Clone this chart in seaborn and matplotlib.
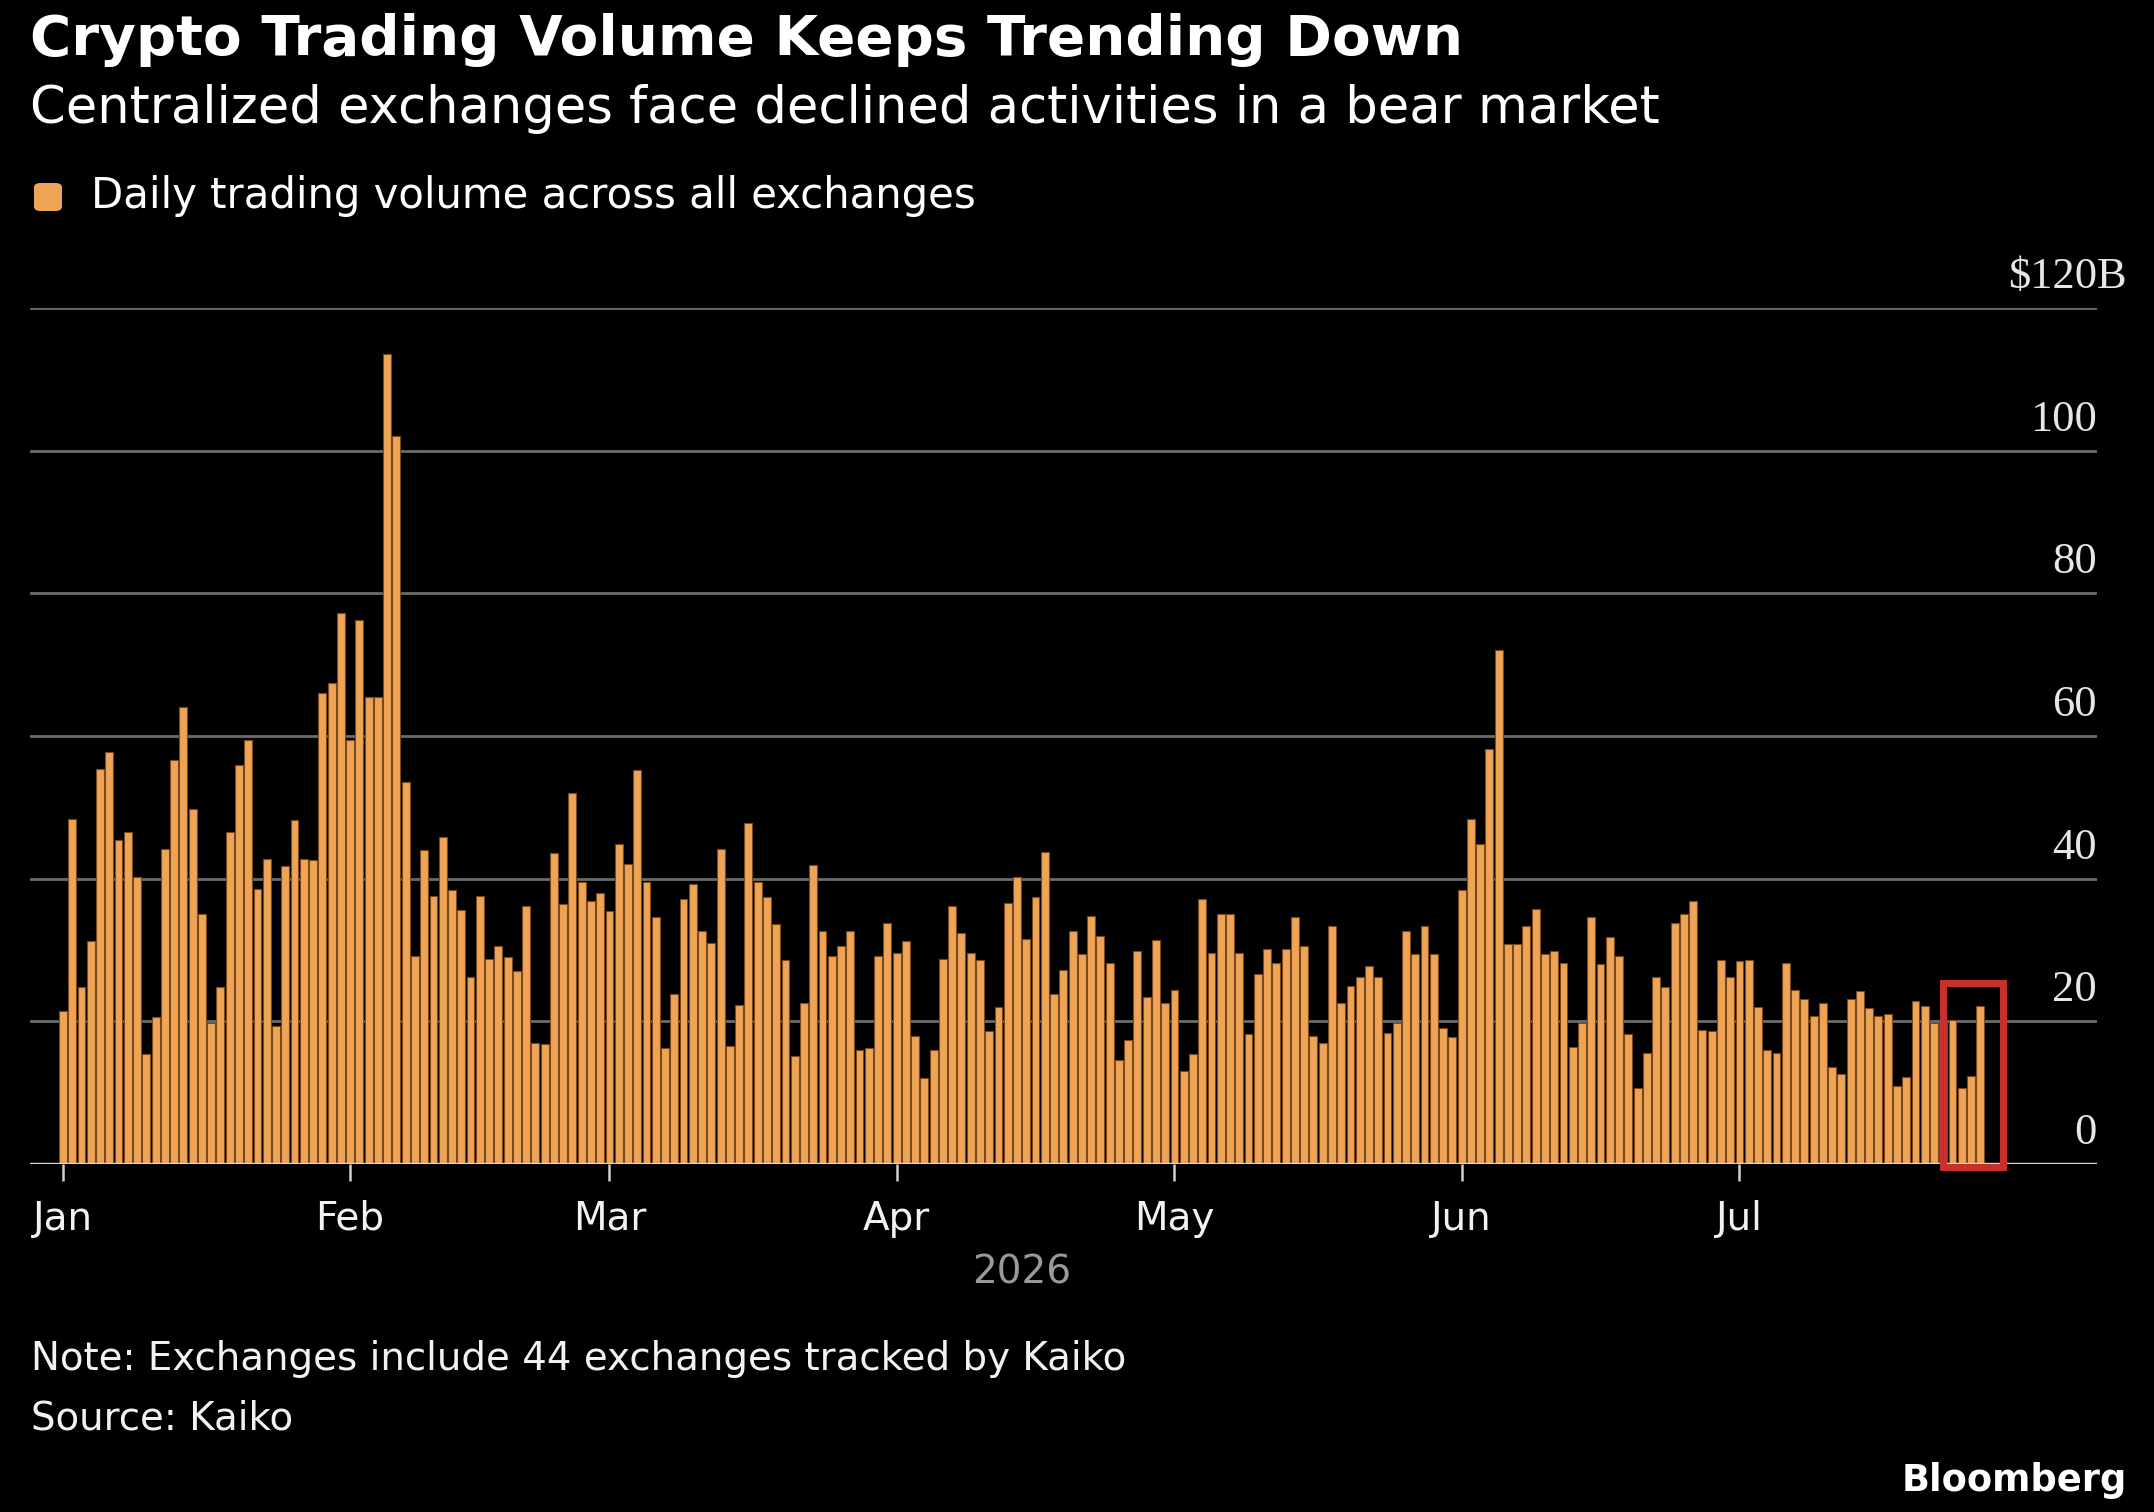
import numpy as np
import pandas as pd
import matplotlib.pyplot as plt
import seaborn as sns
from matplotlib.patches import Rectangle, FancyBboxPatch

# -------------------------
# Data: daily trading volume across all exchanges ($B), Jan 1 - Jul 27 2026
# -------------------------
jan = [21.4, 48.4, 24.8, 31.2, 55.4, 57.8, 45.4, 46.5, 40.2, 15.4,
       20.6, 44.2, 56.7, 64.1, 49.8, 35.0, 19.8, 24.8, 46.5, 56.0,
       59.4, 38.6, 42.8, 19.4, 41.8, 48.2, 42.8, 42.6, 66.0, 67.4,
       77.2]
feb = [59.4, 76.2, 65.4, 65.5, 113.6, 102.0, 53.6, 29.2, 44.0, 37.6,
       45.8, 38.4, 35.6, 26.2, 37.6, 28.8, 30.6, 29.0, 27.0, 36.2,
       17.0, 16.8, 43.6, 36.4, 52.0, 39.6, 36.8, 38.0]
mar = [35.4, 44.8, 42.0, 55.2, 39.6, 34.6, 16.2, 23.8, 37.2, 39.2,
       32.6, 31.0, 44.2, 16.6, 22.3, 47.8, 39.6, 37.5, 33.6, 28.6,
       15.2, 22.6, 41.9, 32.6, 29.2, 30.6, 32.6, 16.0, 16.2, 29.2,
       33.8]
apr = [29.6, 31.2, 18.0, 12.0, 16.0, 28.8, 36.2, 32.4, 29.6, 28.6,
       18.6, 22.0, 36.6, 40.2, 31.6, 37.4, 43.8, 23.9, 27.2, 32.6,
       29.4, 34.8, 32.0, 28.2, 14.6, 17.4, 29.8, 23.4, 31.4, 22.6]
may = [24.4, 13.0, 15.4, 37.2, 29.6, 35.1, 35.1, 29.6, 18.2, 26.6,
       30.2, 28.2, 30.2, 34.6, 30.6, 18.0, 16.9, 33.4, 22.6, 25.0,
       26.2, 27.8, 26.2, 18.4, 19.8, 32.6, 29.4, 33.4, 29.4, 19.0,
       17.8]
jun = [38.4, 48.4, 44.9, 58.2, 72.0, 30.8, 30.8, 33.4, 35.8, 29.4,
       29.8, 28.2, 16.4, 19.8, 34.6, 28.0, 31.8, 29.2, 18.2, 10.6,
       15.6, 26.2, 24.8, 33.8, 35.0, 36.8, 18.8, 18.6, 28.6, 26.2]
jul = [28.4, 28.6, 22.0, 16.0, 15.6, 28.2, 24.4, 23.2, 20.8, 22.6,
       13.6, 12.6, 23.2, 24.2, 21.8, 20.8, 21.0, 11.0, 12.2, 22.8,
       22.2, 19.8, 20.0, 20.2, 10.6, 12.4, 22.2]

month_labels = ["Jan", "Feb", "Mar", "Apr", "May", "Jun", "Jul"]
y_ticks = [0, 20, 40, 60, 80, 100, 120]
y_labels = ["0", "20", "40", "60", "80", "100", "$120"]

volume = jan + feb + mar + apr + may + jun + jul
dates = pd.date_range("2026-01-01", periods=len(volume), freq="D")
df = pd.DataFrame({"date": dates, "volume": volume})
df["day"] = (df["date"] - dates[0]).dt.days

month_starts = pd.date_range("2026-01-01", "2026-07-01", freq="MS")
month_days = [(m - dates[0]).days for m in month_starts]
highlight_day = (pd.Timestamp("2026-07-23") - dates[0]).days

# -------------------------
# Style
# -------------------------
W, H = 2154, 1512
BG = "#000000"
BAR = "#EEA454"
GRID = "#6B6B6B"

sns.set_theme(style="dark", rc={
    "figure.facecolor": BG,
    "axes.facecolor": BG,
    "savefig.facecolor": BG,
})
plt.rcParams["font.family"] = ["DejaVu Sans"]


def fx(px):
    return px / W


def fy(py):
    return 1 - py / H


fig = plt.figure(figsize=(W / 100, H / 100), dpi=100)
ax = fig.add_axes([fx(30), fy(1164), fx(2097) - fx(30), fy(308) - fy(1164)])

sns.barplot(data=df, x="day", y="volume", native_scale=True, width=0.85,
            color=BAR, edgecolor="#7A4A1E", linewidth=0.8, saturation=1,
            errorbar=None, ax=ax, zorder=3)

ax.set_xlim(-3.56, 219.6)
ax.set_ylim(0, 120)
for s in ax.spines.values():
    s.set_visible(False)
ax.set_xlabel("")
ax.set_ylabel("")

# gridlines
for v in y_ticks[1:]:
    ax.axhline(v, color=GRID, lw=2.0, zorder=1)
ax.axhline(0, color="#D8D8D8", lw=2.4, zorder=4)

# y labels above gridlines, right aligned
ax.set_yticks([])
for v, lab in zip(y_ticks, y_labels):
    ax.text(1.0, v + 2.8, lab, transform=ax.get_yaxis_transform(),
            ha="right", va="baseline", color="#E6E6E6", fontsize=32,
            family="Liberation Serif")
ax.text(1.0, 120 + 2.8, "B", transform=ax.get_yaxis_transform(),
        ha="left", va="baseline", color="#E6E6E6", fontsize=32,
        family="Liberation Serif")

# month ticks and labels
ax.set_xticks(month_days)
ax.set_xticklabels([])
ax.tick_params(axis="x", bottom=True, length=12, width=1.8, color="#CFCFCF",
               direction="out")
for d, lab in zip(month_days, month_labels):
    ax.text(d, -66 / 856, lab, transform=ax.get_xaxis_transform(),
            ha="center", va="baseline", color="#F2F2F2", fontsize=28)

# red highlight box around the latest days
ax.add_patch(Rectangle((highlight_day, -0.4), 6.5, 25.8, fill=False,
                       edgecolor="#C8302C", lw=5, zorder=5, clip_on=False))

# -------------------------
# Titles, legend, notes
# -------------------------
fig.text(fx(30), fy(55), "Crypto Trading Volume Keeps Trending Down",
         color="white", fontsize=40.6, weight="bold", va="baseline")
fig.text(fx(30), fy(123), "Centralized exchanges face declined activities in a bear market",
         color="white", fontsize=36.8, va="baseline")

fig.patches.append(FancyBboxPatch((fx(34), fy(211)), fx(28), 28 / H,
                                  boxstyle="round,pad=0,rounding_size=0.003",
                                  transform=fig.transFigure, facecolor=BAR,
                                  edgecolor="none"))
fig.text(fx(91), fy(208), "Daily trading volume across all exchanges",
         color="white", fontsize=30.2, va="baseline")

fig.text(fx(1022), fy(1283), "2026", color="#9A9A9A", fontsize=28,
         ha="center", va="baseline")
fig.text(fx(31), fy(1370), "Note: Exchanges include 44 exchanges tracked by Kaiko",
         color="#F2F2F2", fontsize=27.9, va="baseline")
fig.text(fx(31), fy(1430), "Source: Kaiko", color="#F2F2F2", fontsize=27.9,
         va="baseline")
fig.text(fx(2127), fy(1491), "Bloomberg", color="white", fontsize=26.5,
         weight="bold", ha="right", va="baseline")

fig.savefig("out.png", dpi=100)
plt.close(fig)
